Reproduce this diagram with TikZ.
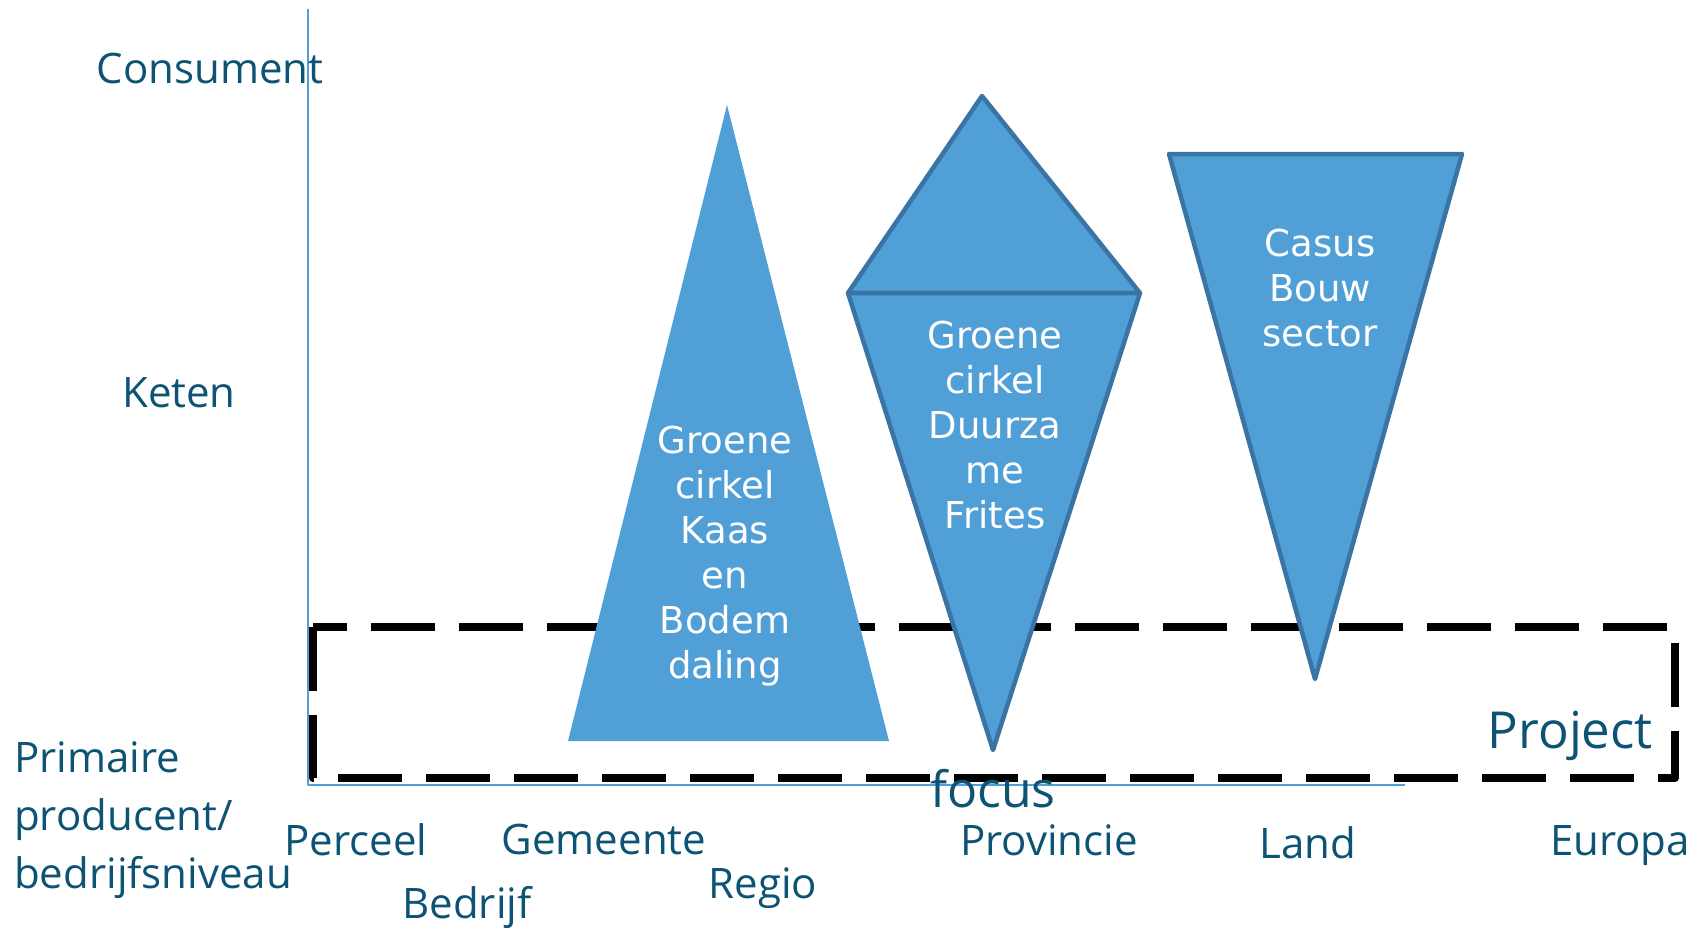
\documentclass[tikz,border=0pt]{standalone}
\usepackage{fontspec}
\setmainfont{Open Sans}
\newfontfamily\vormfont{DejaVu Sans}
\definecolor{vlak}{RGB}{80,159,214}
\definecolor{rand}{RGB}{58,116,164}
\definecolor{tekst}{RGB}{12,83,116}
\begin{document}
\begin{tikzpicture}[x=1pt,y=-1pt,line join=round,
    as/.style={tekst,font=\fontsize{42}{58}\selectfont,inner sep=0pt},
    vorm/.style={fill=vlak,draw=rand,line width=4.5pt},
    vormtekst/.style={white,align=center,inner sep=0pt,font=\vormfont\fontsize{37}{45}\selectfont}]
    \useasboundingbox (0,0) rectangle (1704,930);
    % assen
    \draw[vlak,line width=1.5pt] (308,9) -- (308,785) -- (1405,785);
    % project focus
    \draw[line width=8pt,dash pattern=on 64pt off 24pt] (313,627) rectangle (1675,778);
    % vormen
    \fill[vlak] (727,105) -- (889,741) -- (568,741) -- cycle;
    \draw[vorm] (982,96) -- (1140,293) -- (848,293) -- cycle;
    \draw[vorm] (848,293) -- (1140,293) -- (993,750) -- cycle;
    \draw[vorm] (1169,154) -- (1462,154) -- (1315,679) -- cycle;
    \node[vorm,vormtekst,minimum width=126,minimum height=77] (bvt) at (474,699.5) {BvT};
    \node[vormtekst] (kaas) at (725,556) {Groene\\cirkel\\Kaas\\en\\Bodem\\daling};
    \node[vormtekst] (frites) at (995,425) {Groene\\cirkel\\Duurza\\me\\Frites};
    \node[vormtekst] (bouw) at (1320,288) {Casus\\Bouw\\sector};
    % labels
    \node[as,anchor=base] (consument) at (210,83) {Consument};
    \node[as,anchor=base] (keten) at (179,407) {Keten};
    \node[as,anchor=north west,align=left] (primair) at (14,741) {Primaire\\producent/\\bedrijfsniveau};
    \node[as,anchor=base] (perceel) at (356,855) {Perceel};
    \node[as,anchor=base] (bedrijf) at (467,918) {Bedrijf};
    \node[as,anchor=base] (gemeente) at (604,854) {Gemeente};
    \node[as,anchor=base] (regio) at (763,898) {Regio};
    \node[as,anchor=base] (provincie) at (1049,855) {Provincie};
    \node[as,anchor=base] (land) at (1308,858) {Land};
    \node[as,anchor=base] (europa) at (1620,855) {Europa};
    \node[as,anchor=base east,font=\fontsize{51}{60}\selectfont] (project) at (1653,748) {Project};
    \node[as,anchor=base,font=\fontsize{50}{60}\selectfont] (focus) at (993,807) {focus};
\end{tikzpicture}
\end{document}
